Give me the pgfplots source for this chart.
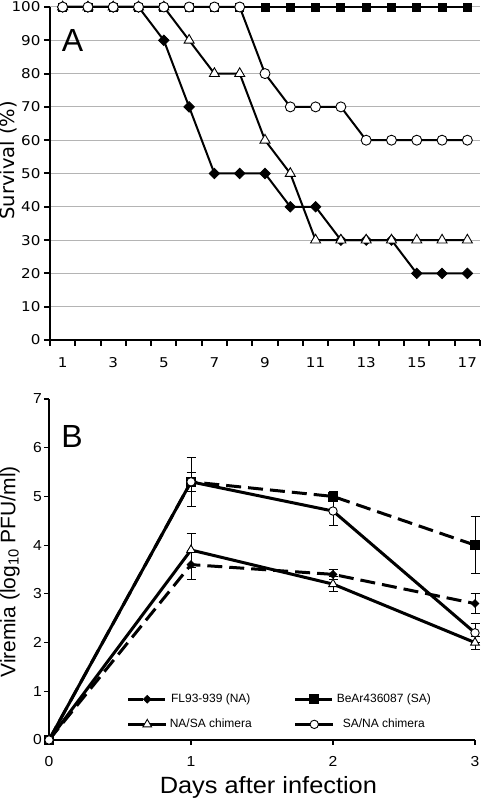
\documentclass[border=0pt]{standalone}
\usepackage{pgfplots}
\pgfplotsset{compat=1.18}
\usepackage{fontspec}
\setmainfont{Liberation Sans}
\newfontfamily\verd[FakeStretch=1.12]{DejaVu Sans}
\newfontfamily\dejavu{DejaVu Sans}
\newfontfamily\arialx[FakeStretch=1.08]{Liberation Sans}
\definecolor{gridgray}{HTML}{B4B4B4}

\begin{document}
\begin{tikzpicture}[x=1pt,y=1pt]
\useasboundingbox (0,0) rectangle (482,800);
% ---------------- Panel A ----------------
\begin{axis}[
  at={(50pt,460pt)}, anchor=south west,
  scale only axis, width=430pt, height=333pt,
  xmin=0.5, xmax=17.5, ymin=0, ymax=100,
  clip=false,
  axis x line*=bottom, axis y line*=left,
  axis line style={line width=2.6pt},
  xtick={0.5,1.5,...,17.5},
  x tick label as interval,
  xticklabels={1,,3,,5,,7,,9,,11,,13,,15,,17},
  ytick={0,10,...,100},
  tick align=outside,
  major tick length=6pt,
  tick style={line width=2pt, black},
  ymajorgrids, grid style={gridgray, line width=1pt},
  /pgf/number format/assume math mode=true,
  ticklabel style={font=\fontsize{13.5}{16}\selectfont\verd},
  xticklabel style={yshift=-8pt},
  ylabel={Survival (\%)},
  ylabel style={at={(rel axis cs:-0.0756,0.54)}, anchor=south, inner sep=0pt, font=\fontsize{19.5}{22}\selectfont\dejavu},
]
\addplot[line width=2pt, mark=square*, mark size=4pt, mark options={solid, fill=black, line width=0.8pt}]
  coordinates {(1,100)(2,100)(3,100)(4,100)(5,100)(6,100)(7,100)(8,100)(9,100)(10,100)(11,100)(12,100)(13,100)(14,100)(15,100)(16,100)(17,100)};
\addplot[line width=2pt, mark=square*, mark size=3.7pt, mark options={solid, fill=black, rotate=45, line width=0.8pt}]
  coordinates {(1,100)(2,100)(3,100)(4,100)(5,90)(6,70)(7,50)(8,50)(9,50)(10,40)(11,40)(12,30)(13,30)(14,30)(15,20)(16,20)(17,20)};
\addplot[line width=2pt, mark=triangle*, mark size=5.8pt, mark options={solid, fill=white, line width=0.9pt}]
  coordinates {(1,100)(2,100)(3,100)(4,100)(5,100)(6,90)(7,80)(8,80)(9,60)(10,50)(11,30)(12,30)(13,30)(14,30)(15,30)(16,30)(17,30)};
\addplot[line width=2pt, mark=*, mark size=5pt, mark options={solid, fill=white, line width=0.9pt}]
  coordinates {(1,100)(2,100)(3,100)(4,100)(5,100)(6,100)(7,100)(8,100)(9,80)(10,70)(11,70)(12,70)(13,60)(14,60)(15,60)(16,60)(17,60)};
\node[font=\fontsize{32}{32}\selectfont, inner sep=0pt] at (rel axis cs:0.0523,0.90) {A};
\end{axis}
% ---------------- Panel B ----------------
\begin{axis}[
  at={(49pt,60pt)}, anchor=south west,
  scale only axis, width=426pt, height=341pt,
  xmin=0, xmax=3, ymin=0, ymax=7,
  clip=false,
  axis x line*=bottom, axis y line*=left,
  axis line style={line width=2.4pt},
  xtick={0,1,2,3}, ytick={0,1,...,7},
  tick align=outside,
  major tick length=5pt,
  tick style={line width=1.2pt, black},
  /pgf/number format/assume math mode=true,
  ticklabel style={font=\fontsize{14.5}{17}\selectfont\arialx},
  xticklabel style={inner sep=0pt, yshift=-11.5pt},
  yticklabel style={inner sep=2pt},
  xlabel={Days after infection},
  xlabel style={at={(rel axis cs:0.515,-0.1056)}, anchor=north, inner sep=0pt, font=\fontsize{23.5}{26}\selectfont\arialx},
  ylabel={Viremia (log\textsubscript{10} PFU/ml)},
  ylabel style={at={(rel axis cs:-0.068,0.493)}, anchor=south, inner sep=0pt, font=\fontsize{21}{24}\selectfont},
  legend columns=2,
  legend style={draw=none, fill=none, at={(rel axis cs:0.175,0.147)}, anchor=north west,
    font=\fontsize{12}{14}\selectfont, row sep=11pt,
    /tikz/every even column/.append style={column sep=40pt}},
  legend image code/.code={\draw[#1,mark repeat=2,mark phase=2] plot coordinates {(0pt,0pt)(19pt,0pt)(38pt,0pt)};},
  error bars/y dir=both, error bars/y explicit,
  error bars/error bar style={line width=0.8pt, solid, black},
  error bars/error mark options={rotate=90, mark size=4.5pt, line width=0.8pt, black},
]
\addplot[line width=3pt, dash pattern=on 15pt off 7pt, mark=square*, mark size=2.7pt, mark options={solid, fill=black, rotate=45, line width=0.8pt}]
  coordinates {(0,0) +- (0,0) (1,3.6) +- (0,0.3) (2,3.4) +- (0,0.1) (3,2.8) +- (0,0.2)};
\addlegendentry{FL93-939 (NA)}
\addplot[line width=3pt, dash pattern=on 15pt off 7pt, mark=square*, mark size=4.5pt, mark options={solid, fill=black, line width=0.8pt}]
  coordinates {(0,0) +- (0,0) (1,5.3) +- (0,0.5) (2,5.0) +- (0,0.1) (3,4.0) +- (0,0.58)};
\addlegendentry{BeAr436087 (SA)}
\addplot[line width=3pt, mark=triangle*, mark size=5pt, mark options={solid, fill=white, line width=0.9pt}]
  coordinates {(0,0) +- (0,0) (1,3.9) +- (0,0.35) (2,3.2) +- (0,0.15) (3,2.0) +- (0,0.13)};
\addlegendentry{NA/SA chimera}
\addplot[line width=3pt, mark=*, mark size=4.2pt, mark options={solid, fill=white, line width=0.9pt}]
  coordinates {(0,0) +- (0,0) (1,5.3) +- (0,0.2) (2,4.7) +- (0,0.3) (3,2.2) +- (0,0.2)};
\addlegendentry{SA/NA chimera}
\node[font=\fontsize{32}{32}\selectfont, inner sep=0pt] at (rel axis cs:0.054,0.891) {B};
\end{axis}
\end{tikzpicture}
\end{document}
